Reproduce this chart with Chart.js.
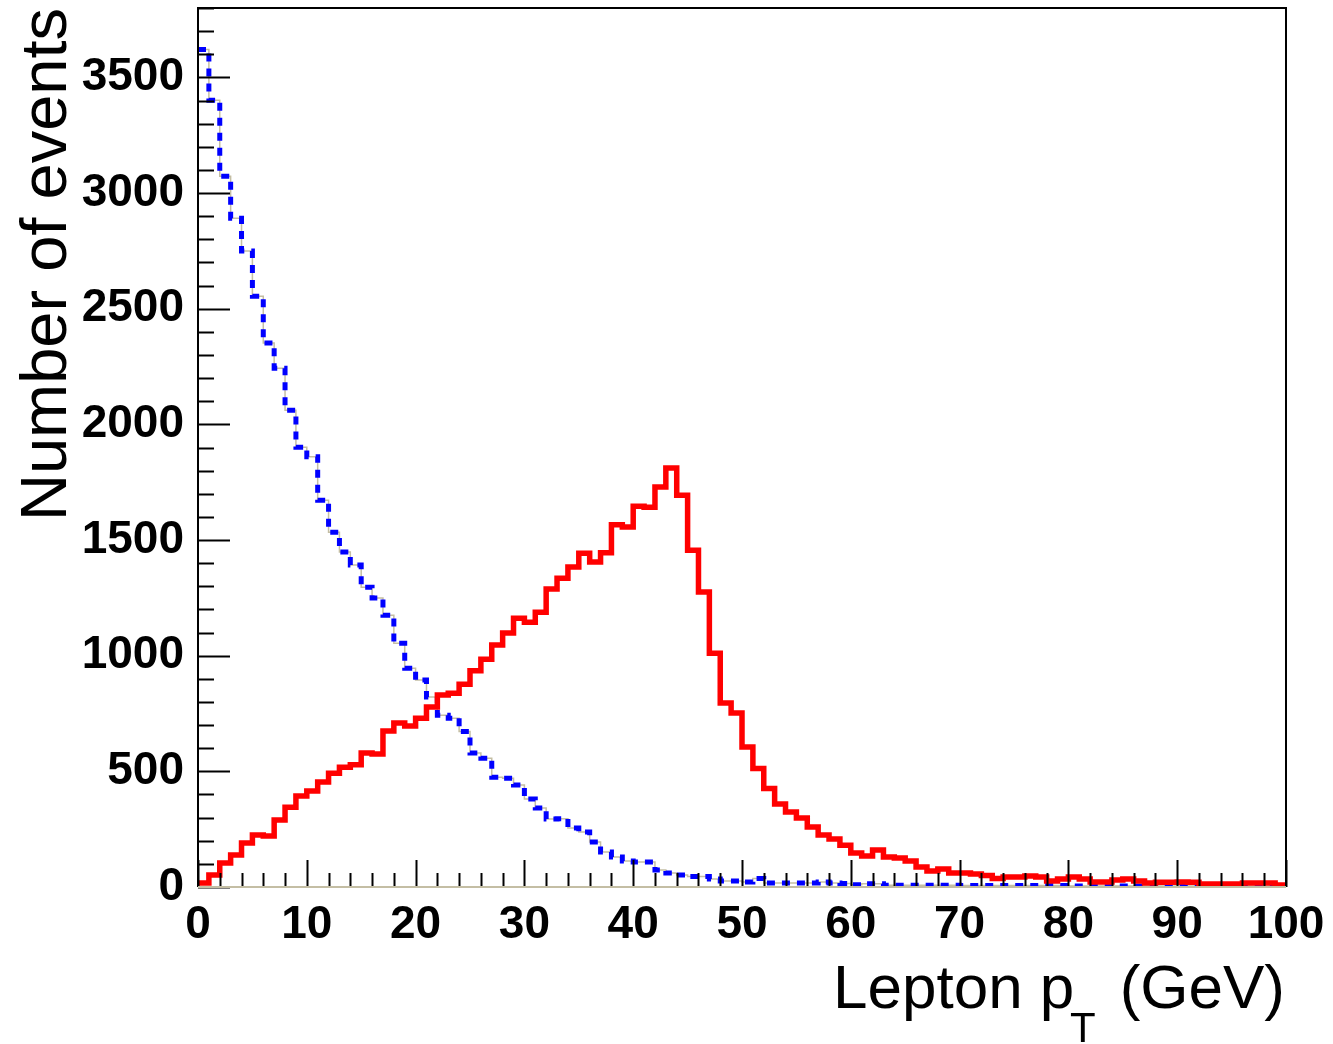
<!DOCTYPE html>
<html>
<head>
<meta charset="utf-8">
<script src="https://cdn.jsdelivr.net/npm/chart.js@4"></script>
<style>
  body { margin: 0; background: #fff; }
  #wrap { width: 1333px; height: 1044px; }
</style>
</head>
<body>
<div id="wrap"><canvas id="ptChart" width="1333" height="1044"></canvas></div>
<script>
// histogram: 100 bins of 1 GeV from 0 to 100
const binLowEdges = Array.from({ length: 100 }, (_, i) => i);
const xMax = 100;

// red solid histogram
const redCounts = [
  17, 52, 104, 138, 190, 225, 220, 290, 345, 393,
  415, 454, 492, 518, 528, 579, 575, 674, 709, 696,
  730, 778, 830, 838, 877, 935, 985, 1046, 1098, 1162,
  1145, 1188, 1288, 1335, 1383, 1443, 1405, 1445, 1566, 1556,
  1646, 1642, 1729, 1811, 1694, 1456, 1275, 1011, 795, 752,
  605, 512, 426, 359, 324, 298, 259, 225, 207, 181,
  147, 134, 160, 130, 125, 112, 86, 69, 78, 61,
  61, 56, 50, 37, 43, 43, 48, 43, 26, 35,
  43, 35, 22, 22, 30, 35, 26, 17, 20, 20,
  22, 20, 13, 13, 13, 13, 17, 17, 17, 9
];

// blue dashed histogram
const blueCounts = [
  3621, 3401, 3073, 2891, 2749, 2554, 2352, 2243, 2061, 1901,
  1860, 1672, 1534, 1448, 1392, 1296, 1249, 1175, 1054, 946,
  895, 821, 743, 730, 672, 579, 557, 475, 470, 441,
  380, 341, 294, 295, 255, 238, 194, 151, 130, 112,
  108, 108, 73, 60, 52, 45, 45, 35, 26, 26,
  22, 37, 17, 17, 17, 17, 17, 22, 17, 15,
  10, 14, 14, 8, 8, 8, 8, 8, 8, 8,
  6, 6, 6, 6, 6, 6, 6, 6, 6, 6,
  4, 4, 4, 4, 4, 4, 4, 4, 4, 4,
  4, 4, 4, 4, 4, 4, 4, 4, 4, 4
];

const xTicks = [0, 10, 20, 30, 40, 50, 60, 70, 80, 90, 100];
const yTicks = [0, 500, 1000, 1500, 2000, 2500, 3000, 3500];
const yMax = 3800;
const xMinorStep = 2;
const yMinorStep = 100;

// step points: each bin value held from its low edge to the next edge
function toSteps(counts) {
  const pts = counts.map((c, i) => ({ x: binLowEdges[i], y: c }));
  pts.push({ x: xMax, y: counts[counts.length - 1] });
  return pts;
}

const FONT = '"Liberation Sans", Arial, Helvetica, sans-serif';

// ROOT-like frame: inward ticks, tan baseline, axis titles
const framePlugin = {
  id: "frame",
  afterDatasetsDraw(chart) {
    const { ctx, chartArea: a, scales: { x, y } } = chart;
    ctx.save();
    ctx.lineWidth = 2;
    ctx.strokeStyle = "#000";

    // y ticks (pointing right, into the pad)
    for (let v = 0; v <= yMax; v += yMinorStep) {
      const py = Math.round(y.getPixelForValue(v)) + 0.5;
      const len = v % 500 === 0 ? 32 : 16;
      ctx.beginPath();
      ctx.moveTo(a.left, py);
      ctx.lineTo(a.left + len, py);
      ctx.stroke();
    }
    // x ticks (pointing up)
    for (let v = 0; v <= xMax; v += xMinorStep) {
      const px = Math.round(x.getPixelForValue(v)) + 0.5;
      const len = v % 10 === 0 ? 27 : 14;
      ctx.beginPath();
      ctx.moveTo(px, a.bottom);
      ctx.lineTo(px, a.bottom - len);
      ctx.stroke();
    }

    // frame
    ctx.beginPath();
    ctx.moveTo(a.left, a.bottom);
    ctx.lineTo(a.left, a.top);
    ctx.lineTo(a.right, a.top);
    ctx.lineTo(a.right, a.bottom);
    ctx.stroke();
    ctx.strokeStyle = "#c4bea4";
    ctx.beginPath();
    ctx.moveTo(a.left, a.bottom);
    ctx.lineTo(a.right, a.bottom);
    ctx.stroke();

    // axis titles
    ctx.fillStyle = "#000";
    ctx.textBaseline = "alphabetic";
    ctx.font = "62px " + FONT;
    ctx.textAlign = "left";
    ctx.fillText("Lepton p", 833, 1008);
    ctx.textAlign = "right";
    ctx.fillText("(GeV)", 1285, 1008);
    ctx.font = "42px " + FONT;
    ctx.textAlign = "left";
    ctx.fillText("T", 1070, 1042);

    ctx.translate(66, a.top);
    ctx.rotate(-Math.PI / 2);
    ctx.font = "65px " + FONT;
    ctx.textAlign = "right";
    ctx.fillText("Number of events", 0, 0);
    ctx.restore();
  }
};

const ctx = document.getElementById("ptChart").getContext("2d");

const chart = new Chart(ctx, {
  type: "line",
  data: {
    datasets: [
      {
        label: "red",
        data: toSteps(redCounts),
        borderColor: "#ff0000",
        borderWidth: 5.5,
        stepped: "before",
        pointRadius: 0,
        borderJoinStyle: "miter",
        fill: false,
        order: 0
      },
      {
        label: "blue",
        data: toSteps(blueCounts),
        borderColor: "#0000ff",
        borderWidth: 5,
        borderDash: [8, 7],
        stepped: "before",
        pointRadius: 0,
        fill: false,
        order: 1
      },
      {
        label: "blue line",
        data: toSteps(blueCounts),
        borderColor: "#c4bea4",
        borderWidth: 1.5,
        stepped: "before",
        pointRadius: 0,
        fill: false,
        order: 2
      }
    ]
  },
  options: {
    responsive: false,
    animation: false,
    layout: { padding: { top: 8, right: 47, left: 0, bottom: 0 } },
    plugins: {
      legend: { display: false },
      tooltip: { enabled: false }
    },
    scales: {
      x: {
        type: "linear",
        min: 0,
        max: xMax,
        afterBuildTicks: (s) => { s.ticks = xTicks.map((v) => ({ value: v })); },
        afterFit: (s) => { s.height = 157; s.paddingLeft = 0; s.paddingRight = 0; },
        grid: { display: false, drawTicks: false },
        border: { display: false },
        ticks: {
          padding: 11,
          maxRotation: 0,
          color: "#000",
          callback: (v) => String(v),
          font: { family: FONT, weight: "bold", size: 46 }
        }
      },
      y: {
        type: "linear",
        min: 0,
        max: yMax,
        afterBuildTicks: (s) => { s.ticks = yTicks.map((v) => ({ value: v })); },
        afterFit: (s) => { s.width = 198; s.paddingTop = 0; s.paddingBottom = 0; },
        grid: { display: false, drawTicks: false },
        border: { display: false },
        ticks: {
          padding: 14,
          color: "#000",
          callback: (v) => String(v),
          font: { family: FONT, weight: "bold", size: 46 }
        }
      }
    }
  },
  plugins: [framePlugin]
});
</script>
</body>
</html>
